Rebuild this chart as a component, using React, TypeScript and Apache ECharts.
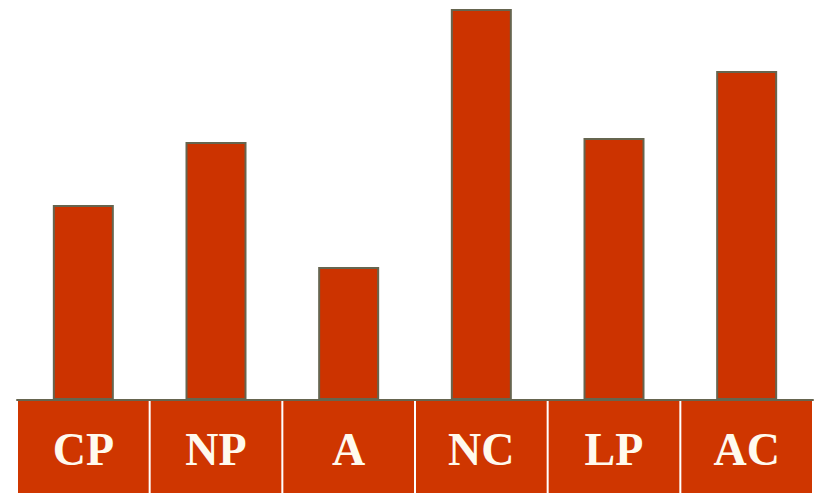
import React, { useEffect, useRef } from "react";
import * as echarts from "echarts";

const categories = ["CP", "NP", "A", "NC", "LP", "AC"];
const values = [195, 258, 133, 391, 262, 329];
const axisMax = 400;

export default function App() {
  const ref = useRef<HTMLDivElement>(null);
  useEffect(() => {
    if (!ref.current) return;
    const chart = echarts.init(ref.current, undefined, { renderer: "svg" });
    const gridLeft = 17;
    const gridRight = 8;
    const cell = (821 - gridLeft - gridRight) / categories.length;
    chart.setOption({
      animation: false,
      backgroundColor: "#ffffff",
      grid: { left: gridLeft, right: gridRight, top: 0, bottom: 93, containLabel: false },
      xAxis: {
        type: "category",
        data: categories,
        axisLine: { show: true, lineStyle: { color: "#66654f", width: 2 } },
        axisTick: { show: false },
        splitLine: { show: false },
        axisLabel: {
          interval: 0,
          margin: 1,
          color: "#fffaee",
          fontFamily: "'Liberation Serif', 'Times New Roman', serif",
          fontWeight: "bold",
          fontSize: 46,
          backgroundColor: "#cf3600",
          width: cell - 2,
          height: 92,
          lineHeight: 96,
          align: "center",
        },
      },
      yAxis: {
        type: "value",
        min: 0,
        max: axisMax,
        show: false,
        splitLine: { show: false },
      },
      series: [
        {
          type: "bar",
          data: values,
          barWidth: 61,
          itemStyle: { color: "#cc3300", borderColor: "#66654f", borderWidth: 2 },
        },
      ],
    });
    return () => chart.dispose();
  }, []);
  return (
    <div
      ref={ref}
      style={{ position: "fixed", left: 0, top: 0, width: 821, height: 493 }}
    />
  );
}
